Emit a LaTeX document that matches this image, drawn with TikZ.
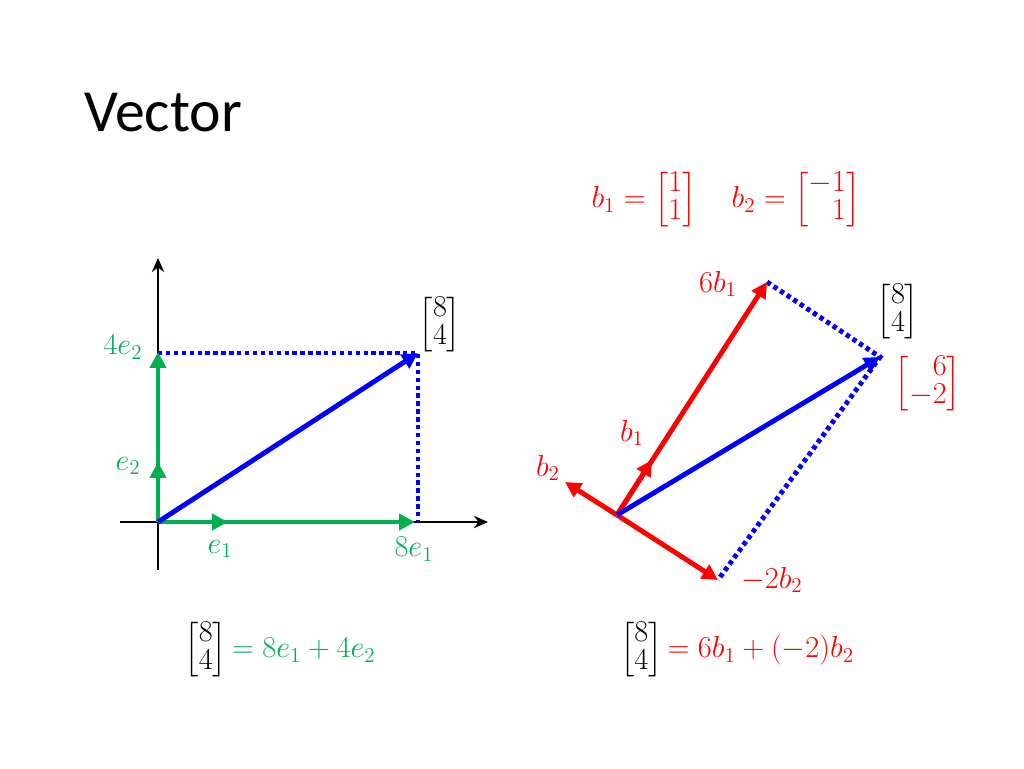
\documentclass[tikz,border=0pt]{standalone}
\usepackage{amsmath}
\usepackage{fontspec}
\newfontfamily\titlefont{Carlito}
\usetikzlibrary{arrows.meta}
\definecolor{gr}{RGB}{0,176,80}
\definecolor{bl}{RGB}{0,0,255}
\definecolor{rd}{RGB}{255,0,0}
\renewcommand{\arraystretch}{0.8}
\begin{document}
\begin{tikzpicture}[x=0.02cm,y=-0.02cm,
  vec/.style={line width=2.8pt,-{Triangle[length=9pt,width=9pt]}},
  dot/.style={line width=2.8pt,bl,dash pattern=on 2.5pt off 2pt},
  ax/.style={line width=1.6pt,-{Stealth[length=8pt,width=7pt]}},
  lab/.style={font=\fontsize{17}{20}\selectfont}]
\useasboundingbox (0,0) rectangle (1024,768);
\node[anchor=west,font=\titlefont\fontsize{34}{38}\selectfont] (title) at (78,113) {Vector};
% left
\coordinate (O) at (158,522);
\coordinate (xs) at (120,522); \coordinate (xe) at (488,522);
\coordinate (ys) at (158,570); \coordinate (ye) at (158,258);
\draw[ax] (xs) -- (xe);
\draw[ax] (ys) -- (ye);
\coordinate (P) at (418,353); \coordinate (Py) at (158,353); \coordinate (Px) at (418,522);
\draw[dot] (Py) -- (P) -- (Px);
\coordinate (E1) at (415,522); \coordinate (e1) at (228,522);
\coordinate (E2) at (158,352); \coordinate (e2) at (158,462);
\draw[vec,gr] (O) -- (E1);
\draw[vec,gr] (O) -- (e1);
\draw[vec,gr] (O) -- (E2);
\draw[vec,gr] (O) -- (e2);
\draw[vec,bl] (O) -- (P);
\node[lab,gr] (l4e2) at (123,347) {$4e_2$};
\node[lab,gr] (le2) at (128,466) {$e_2$};
\node[lab,gr] (le1) at (220,549) {$e_1$};
\node[lab,gr] (l8e1) at (414,549) {$8e_1$};
\node[lab] (m1) at (440,325) {$\begin{bmatrix}8\\4\end{bmatrix}$};
\node[lab] (eq1) at (280,650) {$\begin{bmatrix}8\\4\end{bmatrix}\textcolor{gr}{=8e_1+4e_2}$};
% right
\coordinate (Q) at (617,515);
\coordinate (B1) at (767,282); \coordinate (b1) at (652,460);
\coordinate (b2) at (565,482); \coordinate (B2) at (718,580);
\coordinate (R) at (880,357);
\draw[dot] (B1) -- (R) -- (B2);
\draw[vec,rd] (Q) -- (B1);
\draw[vec,rd] (Q) -- (b1);
\draw[vec,rd] (Q) -- (b2);
\draw[vec,rd] (Q) -- (B2);
\draw[vec,bl] (Q) -- (R);
\node[lab,rd] (l6b1) at (718,284) {$6b_1$};
\node[lab,rd] (lb1) at (632,433) {$b_1$};
\node[lab,rd] (lb2) at (548,468) {$b_2$};
\node[lab,rd] (lm2b2) at (772,580) {$-2b_2$};
\node[lab] (m2) at (898,312) {$\begin{bmatrix}8\\4\end{bmatrix}$};
\node[lab,rd] (m3) at (928,384) {$\begin{bmatrix}\phantom{-}6\\-2\end{bmatrix}$};
\node[lab,rd] (top) at (726,200) {$b_1=\begin{bmatrix}1\\1\end{bmatrix}\quad b_2=\begin{bmatrix}-1\\\phantom{-}1\end{bmatrix}$};
\node[lab] (eq2) at (737,650) {$\begin{bmatrix}8\\4\end{bmatrix}\textcolor{rd}{=6b_1+(-2)b_2}$};
\end{tikzpicture}
\end{document}
